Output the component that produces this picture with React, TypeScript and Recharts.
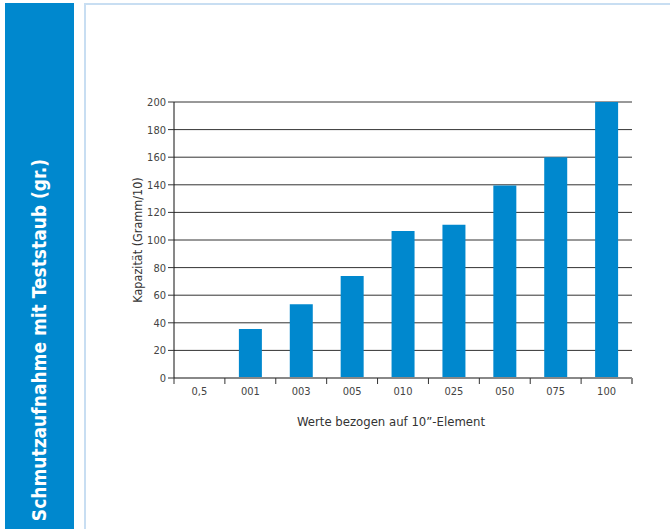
import React from "react";
import { BarChart, Bar, XAxis, YAxis, CartesianGrid } from "recharts";

const categories = ["0,5", "001", "003", "005", "010", "025", "050", "075", "100"];
const capacity = [0, 35.5, 53.5, 74, 106.5, 111, 139.5, 160, 200];
const yTicks = [0, 20, 40, 60, 80, 100, 120, 140, 160, 180, 200];
const sideTitle = "Schmutzaufnahme mit Teststaub (gr.)";
const yTitle = "Kapazität (Gramm/10)";
const xTitle = "Werte bezogen auf 10”-Element";

const data = categories.map((c, i) => ({ name: c, value: capacity[i] }));

const FONT = "'Liberation Sans Narrow', 'DejaVu Sans Condensed', 'Roboto', sans-serif";

const XTick = (props: any) => {
  const { x, y, payload, index, visibleTicksCount } = props;
  const half = payload && payload.offset ? payload.offset : 0;
  const last = index === (visibleTicksCount ?? categories.length) - 1;
  return (
    <g>
      <line x1={x - half} x2={x - half} y1={y} y2={y + 6} stroke="#333" strokeWidth={1} />
      {last ? <line x1={x + half} x2={x + half} y1={y} y2={y + 6} stroke="#888" strokeWidth={2} /> : null}
      <text x={x} y={y + 17} textAnchor="middle" fontSize={11} fill="#444" fontFamily={FONT}>
        {payload.value}
      </text>
    </g>
  );
};

export default function App() {
  return (
    <div style={{ position: "absolute", left: 0, top: 0, width: 670, height: 529, background: "#fff", overflow: "hidden", fontFamily: FONT }}>
      <div style={{ position: "absolute", left: 5, top: 3, width: 69, height: 530, background: "#0088CE" }} />
      <div style={{ position: "absolute", left: 39, top: 340, width: 0, height: 0 }}>
        <div style={{ position: "absolute", left: 0, top: 0, transform: "translate(-50%, -50%) rotate(-90deg)", whiteSpace: "nowrap", color: "#fff", fontWeight: "bold", fontSize: 19, fontFamily: "'Liberation Sans Narrow', 'DejaVu Sans Condensed', sans-serif" }}>
          {sideTitle}
        </div>
      </div>
      <div style={{ position: "absolute", left: 84, top: 3, width: 600, height: 540, borderLeft: "2px solid #c8def2", borderTop: "2px solid #c8def2", boxSizing: "border-box" }} />
      <div style={{ position: "absolute", left: 0, top: 0 }}>
        <BarChart width={670} height={529} data={data} margin={{ top: 102, right: 38, left: 134, bottom: 121 }}>
          <CartesianGrid vertical={false} stroke="#333" strokeWidth={1} />
          <XAxis dataKey="name" height={30} tickLine={false} tickSize={0} axisLine={{ stroke: "#888", strokeWidth: 2 }} tickMargin={0} tick={<XTick />} interval={0} />
          <YAxis domain={[0, 200]} ticks={yTicks} width={40} tickSize={6} tickMargin={2} axisLine={{ stroke: "#111" }} tickLine={{ stroke: "#333" }} tick={{ fontSize: 11, fill: "#444", fontFamily: FONT }} />
          <YAxis yAxisId="r" orientation="right" width={0} domain={[0, 200]} tick={false} tickLine={false} axisLine={{ stroke: "#888", strokeWidth: 2 }} />
          <Bar dataKey="value" fill="#0088CE" barSize={23} isAnimationActive={false} />
        </BarChart>
      </div>
      <div style={{ position: "absolute", left: 391, top: 421, transform: "translate(-50%, -50%)", whiteSpace: "nowrap", fontSize: 13, color: "#333" }}>
        {xTitle}
      </div>
      <div style={{ position: "absolute", left: 137, top: 240, width: 0, height: 0 }}>
        <div style={{ position: "absolute", left: 0, top: 0, transform: "translate(-50%, -50%) rotate(-90deg)", whiteSpace: "nowrap", fontSize: 12.5, color: "#333" }}>
          {yTitle}
        </div>
      </div>
    </div>
  );
}
